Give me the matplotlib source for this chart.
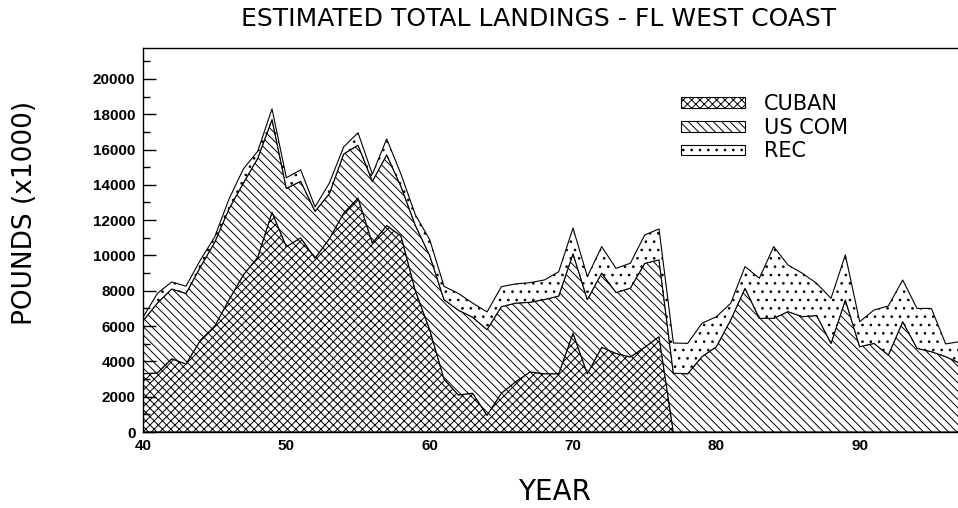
import numpy as np
import matplotlib
matplotlib.use("Agg")
import matplotlib.pyplot as plt
from matplotlib.patches import Patch

years = list(range(40, 98))

cuban = [3300, 3350, 4150, 3850, 5200, 6000, 7500, 8900, 9900, 12450,
         10500, 11000, 9850, 10950, 12400, 13250, 10700, 11700, 11100, 8000,
         5800, 3000, 2100, 2200, 950, 2200, 2850, 3400, 3300, 3300,
         5600, 3300, 4800, 4450, 4250, 4800, 5400, 0, 0, 0,
         0, 0, 0, 0, 0, 0, 0, 0, 0, 0,
         0, 0, 0, 0, 0, 0, 0, 0]

us_com = [3000, 3950, 3950, 4000, 4150, 4750, 5150, 5200, 5600, 5250,
          3300, 3200, 2650, 2550, 3350, 3000, 3500, 4000, 2800, 3700,
          4200, 4500, 4800, 4300, 4850, 4900, 4450, 3950, 4200, 4400,
          4500, 4200, 4200, 3450, 3900, 4750, 4350, 3330, 3300, 4270,
          4830, 6350, 8140, 6440, 6440, 6820, 6530, 6600, 5020, 7480,
          4830, 5020, 4360, 6250, 4740, 4550, 4270, 3890]

rec = [200, 550, 400, 410, 390, 300, 550, 800, 400, 600,
       600, 650, 250, 600, 400, 700, 400, 900, 700, 600,
       900, 750, 950, 800, 1000, 1130, 1090, 1110, 1110, 1380,
       1450, 1300, 1500, 1370, 1410, 1610, 1750, 1710, 1720, 1890,
       1700, 940, 1230, 2270, 4060, 2640, 2460, 1820, 2550, 2550,
       1420, 1890, 2780, 2360, 2260, 2450, 720, 1230]

series_labels = ["CUBAN", "US COM", "REC"]
series_hatches = ["xxxx", "\\\\\\\\", ".."]

x_ticks = [40, 50, 60, 70, 80, 90]
y_ticks = list(range(0, 20001, 2000))

plt.rcParams["hatch.linewidth"] = 0.7
plt.rcParams["font.family"] = ["DejaVu Sans"]

fig = plt.figure(figsize=(9.58, 5.08), dpi=100)
ax = fig.add_axes([0.1493, 0.1496, 0.8528, 0.7559])

x = np.array(years)
layers = [np.array(cuban), np.array(us_com), np.array(rec)]
base = np.zeros(len(x))
for vals, lab, h in zip(layers, series_labels, series_hatches):
    top = base + vals
    ax.fill_between(x, base, top, facecolor="white", edgecolor="black",
                    hatch=h, linewidth=0.8, label=lab)
    base = top

ax.set_xlim(40, 97)
ax.set_ylim(0, 21750)
ax.set_xticks(x_ticks)
ax.set_yticks(y_ticks)
ax.set_yticks(list(range(1000, 21001, 2000)), minor=True)
ax.tick_params(axis="x", length=0, pad=5)
ax.tick_params(axis="y", which="major", direction="in", length=9, width=1, pad=5.5)
ax.tick_params(axis="y", which="minor", direction="in", length=5, width=1)
for lbl in ax.get_xticklabels() + ax.get_yticklabels():
    lbl.set_fontfamily("Liberation Sans")
    lbl.set_fontweight("bold")
    lbl.set_fontsize(11)

ax.spines["right"].set_visible(False)
for s in ["left", "bottom", "top"]:
    ax.spines[s].set_linewidth(1.0)

fig.text(0.562, 0.962, "ESTIMATED TOTAL LANDINGS - FL WEST COAST",
         ha="center", va="center", fontsize=18)
fig.text(0.579, 0.032, "YEAR", ha="center", va="center", fontsize=20)
fig.text(0.026, 0.581, "POUNDS (x1000)", ha="center", va="center",
         rotation=90, fontsize=19)

handles = [Patch(facecolor="white", edgecolor="black", hatch=h, linewidth=0.8)
           for h in series_hatches]
leg = ax.legend(handles, series_labels, loc="upper left",
                bbox_to_anchor=(0.648, 0.902), frameon=False, fontsize=15,
                handlelength=3.1, handleheight=0.4, handletextpad=0.9,
                labelspacing=0.18, borderaxespad=0)

fig.savefig("out.png", dpi=100)
